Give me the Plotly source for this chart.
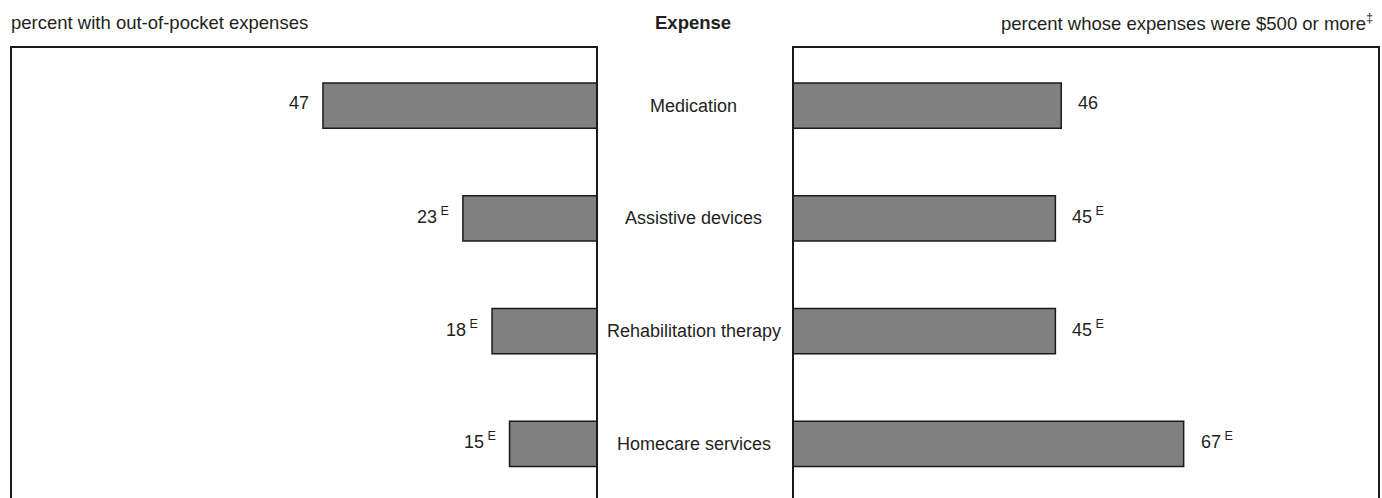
import plotly.graph_objects as go

categories = ["Medication", "Assistive devices", "Rehabilitation therapy", "Homecare services"]
pct_with_expenses = [47, 23, 18, 15]
pct_with_expenses_flags = ["", "E", "E", "E"]
pct_500_or_more = [46, 45, 45, 67]
pct_500_flags = ["", "E", "E", "E"]

left_title = "percent with out-of-pocket expenses"
mid_title = "Expense"
right_title = "percent whose expenses were $500 or more<sup>‡</sup>"

W, H = 1382, 498
FONT = "Liberation Sans, Arial, sans-serif"
TXT = "#231f20"
pos = list(range(len(categories)))

def lab(v, f):
    return f"{v}<sup> {f}</sup>" if f else f"{v}"

fig = go.Figure()
fig.add_trace(go.Bar(y=pos, x=pct_with_expenses, orientation="h", width=0.4,
                     marker=dict(color="#808080", line=dict(color="#1a1a1a", width=1.5)),
                     xaxis="x", yaxis="y", hoverinfo="skip"))
fig.add_trace(go.Bar(y=pos, x=pct_500_or_more, orientation="h", width=0.4,
                     marker=dict(color="#808080", line=dict(color="#1a1a1a", width=1.5)),
                     xaxis="x2", yaxis="y", hoverinfo="skip"))

ann = []
for i, (v, f) in enumerate(zip(pct_with_expenses, pct_with_expenses_flags)):
    ann.append(dict(x=v, y=i, xref="x", yref="y", text=lab(v, f), showarrow=False,
                    xanchor="right", xshift=-12, yshift=3,
                    font=dict(family=FONT, size=18, color=TXT)))
for i, (v, f) in enumerate(zip(pct_500_or_more, pct_500_flags)):
    ann.append(dict(x=v, y=i, xref="x2", yref="y", text=lab(v, f), showarrow=False,
                    xanchor="left", xshift=15, yshift=3,
                    font=dict(family=FONT, size=18, color=TXT)))
for i, c in enumerate(categories):
    ann.append(dict(x=694 / W, y=i, xref="paper", yref="y", text=c, showarrow=False,
                    xanchor="center", font=dict(family=FONT, size=18, color=TXT)))

plot_h = H - 47
ty = 1 + 25 / plot_h
ann.append(dict(x=9 / W, y=ty, xref="paper", yref="paper", text=left_title, showarrow=False,
                xanchor="left", yanchor="middle", font=dict(family=FONT, size=18.5, color=TXT)))
ann.append(dict(x=693 / W, y=ty, xref="paper", yref="paper", text=f"<b>{mid_title}</b>", showarrow=False,
                xanchor="center", yanchor="middle", font=dict(family=FONT, size=18.5, color=TXT)))
ann.append(dict(x=1375 / W, y=ty, xref="paper", yref="paper", text=right_title, showarrow=False,
                xanchor="right", yanchor="middle", font=dict(family=FONT, size=18.5, color=TXT)))

shapes = []
for xr in ["x domain", "x2 domain"]:
    shapes.append(dict(type="path", xref=xr, yref="y domain", path="M 0,-0.05 L 0,1 L 1,1 L 1,-0.05",
                       line=dict(color="#1a1a1a", width=2), layer="above"))

fig.update_layout(
    width=W, height=H, margin=dict(l=0, r=0, t=47, b=0),
    paper_bgcolor="white", plot_bgcolor="white", showlegend=False,
    xaxis=dict(domain=[11 / W, 597 / W], range=[100.5, 0], visible=False, fixedrange=True),
    xaxis2=dict(domain=[793 / W, 1379 / W], range=[0, 100.5], visible=False, fixedrange=True),
    yaxis=dict(range=[3.48, -0.52], visible=False, fixedrange=True),
    annotations=ann, shapes=shapes,
)
fig.write_html("out.html", config={"displayModeBar": False},
               post_script="document.body.style.margin='0';document.body.style.overflow='hidden';")
